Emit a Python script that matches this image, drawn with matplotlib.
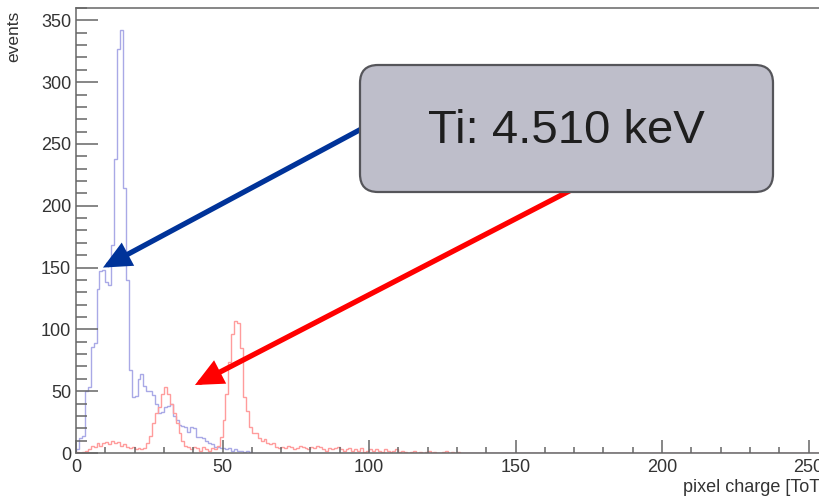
import numpy as np
import matplotlib
matplotlib.use("Agg")
import matplotlib.pyplot as plt
from matplotlib.patches import FancyBboxPatch
from matplotlib.ticker import MultipleLocator

plt.rcParams['font.family'] = ['Liberation Sans', 'DejaVu Sans']

# ---- data (counts per ToT bin, bin width 1) ----
n_bins = 300
blue_counts = [3, 12, 14, 50, 53, 86, 89, 133, 147, 148,
               138, 136, 168, 238, 327, 342, 214, 140, 67, 45,
               46, 60, 64, 54, 50, 50, 47, 40, 32, 33,
               37, 38, 40, 30, 27, 23, 22, 21, 17, 21,
               20, 13, 13, 12, 10, 8, 7, 5, 5, 4,
               4, 3, 4, 2, 3, 2, 2, 1, 2, 1]
red_counts = [1, 0, 1, 2, 3, 6, 5, 8, 6, 8,
              9, 7, 10, 8, 9, 6, 7, 5, 4, 5,
              3, 4, 3, 4, 8, 14, 24, 32, 37, 48,
              53, 48, 40, 32, 24, 16, 10, 6, 5, 3,
              5, 4, 2, 5, 3, 2, 4, 3, 6, 13,
              27, 48, 74, 96, 107, 105, 85, 45, 34, 21,
              16, 16, 12, 10, 11, 8, 7, 8, 5, 4,
              5, 4, 6, 5, 3, 4, 6, 5, 4, 3,
              5, 4, 6, 5, 3, 2, 4, 3, 4, 5,
              3, 2, 3, 4, 2, 3, 2, 4, 1, 2,
              3, 2, 3, 2, 1, 3, 2, 1, 2, 3,
              1, 2, 1, 0, 1, 2, 0, 1, 0, 1,
              2, 0, 1, 0, 0, 1, 2, 0, 1, 0, 1]

x_ticks = [0, 50, 100, 150, 200, 250, 300]
y_ticks = [0, 50, 100, 150, 200, 250, 300, 350]
x_label = "pixel charge [ToT]"
y_label = "events"
note_text = "Ti: 4.510 keV"
blue_target = (9.2, 150)   # arrow tips in data units
red_target = (40.6, 55)

blue = np.zeros(n_bins); blue[:len(blue_counts)] = blue_counts
red = np.zeros(n_bins); red[:len(red_counts)] = red_counts
edges = np.arange(n_bins + 1)

W, H = 820, 498
fig = plt.figure(figsize=(W / 100, H / 100), dpi=100)
ax = fig.add_axes([76 / W, 1 - 453 / H, 300 * 2.93 / W, 445 / H])

ax.stairs(blue, edges, baseline=0, color='#a9a9e6', lw=1.0)
ax.stairs(red, edges, baseline=0, color='#ff9c9c', lw=1.0)

ax.set_xlim(0, 300)
ax.set_ylim(0, 360)
ax.set_xticks(x_ticks)
ax.set_yticks(y_ticks)
ax.xaxis.set_minor_locator(MultipleLocator(10))
ax.yaxis.set_minor_locator(MultipleLocator(10))

spine_c = '#666666'
for s in ['left', 'bottom', 'top']:
    ax.spines[s].set_color(spine_c)
    ax.spines[s].set_linewidth(1.1)
ax.spines['right'].set_visible(False)
ax.tick_params(axis='y', which='major', direction='in', length=15.5, width=1.1,
               color=spine_c, labelsize=13, labelcolor='#333333', pad=3.5)
ax.tick_params(axis='y', which='minor', direction='in', length=7.8, width=1.1,
               color=spine_c)
ax.tick_params(axis='x', which='major', direction='in', length=9.2, width=1.1,
               color=spine_c, labelsize=13, labelcolor='#333333', pad=4)
ax.tick_params(axis='x', which='minor', direction='in', length=4.6, width=1.1,
               color=spine_c)

fig.text(14 / W, 1 - 36 / H, y_label, rotation=90, ha='center', va='center',
         fontsize=12.5, color='#333333')
fig.text(683 / W, 1 - 487 / H, x_label, ha='left', va='center',
         fontsize=13, color='#333333')

# arrows from the note box to the peaks
def arrow(target, start, color):
    ax.annotate('', xy=target, xycoords='data',
                xytext=(start[0] / W, 1 - start[1] / H), textcoords='figure fraction',
                annotation_clip=False,
                arrowprops=dict(arrowstyle='-|>,head_length=14,head_width=6.5',
                                mutation_scale=1, lw=3.8, color=color,
                                shrinkA=0, shrinkB=0, joinstyle='miter'))

arrow(blue_target, (380, 119), '#003399')
arrow(red_target, (575, 188), '#ff0000')

# note box in pixel coordinates
ov = fig.add_axes([0, 0, 1, 1])
ov.set_xlim(0, W)
ov.set_ylim(H, 0)
ov.axis('off')
box = FancyBboxPatch((360, 65), 413, 127,
                     boxstyle="round,pad=0,rounding_size=18",
                     facecolor='#bebeca', edgecolor='#55555a', lw=1.6)
ov.add_patch(box)
ov.text(566, 131, note_text, ha='center', va='center', fontsize=34,
        color='#1e1e1e')

fig.savefig('out.png', dpi=100)
